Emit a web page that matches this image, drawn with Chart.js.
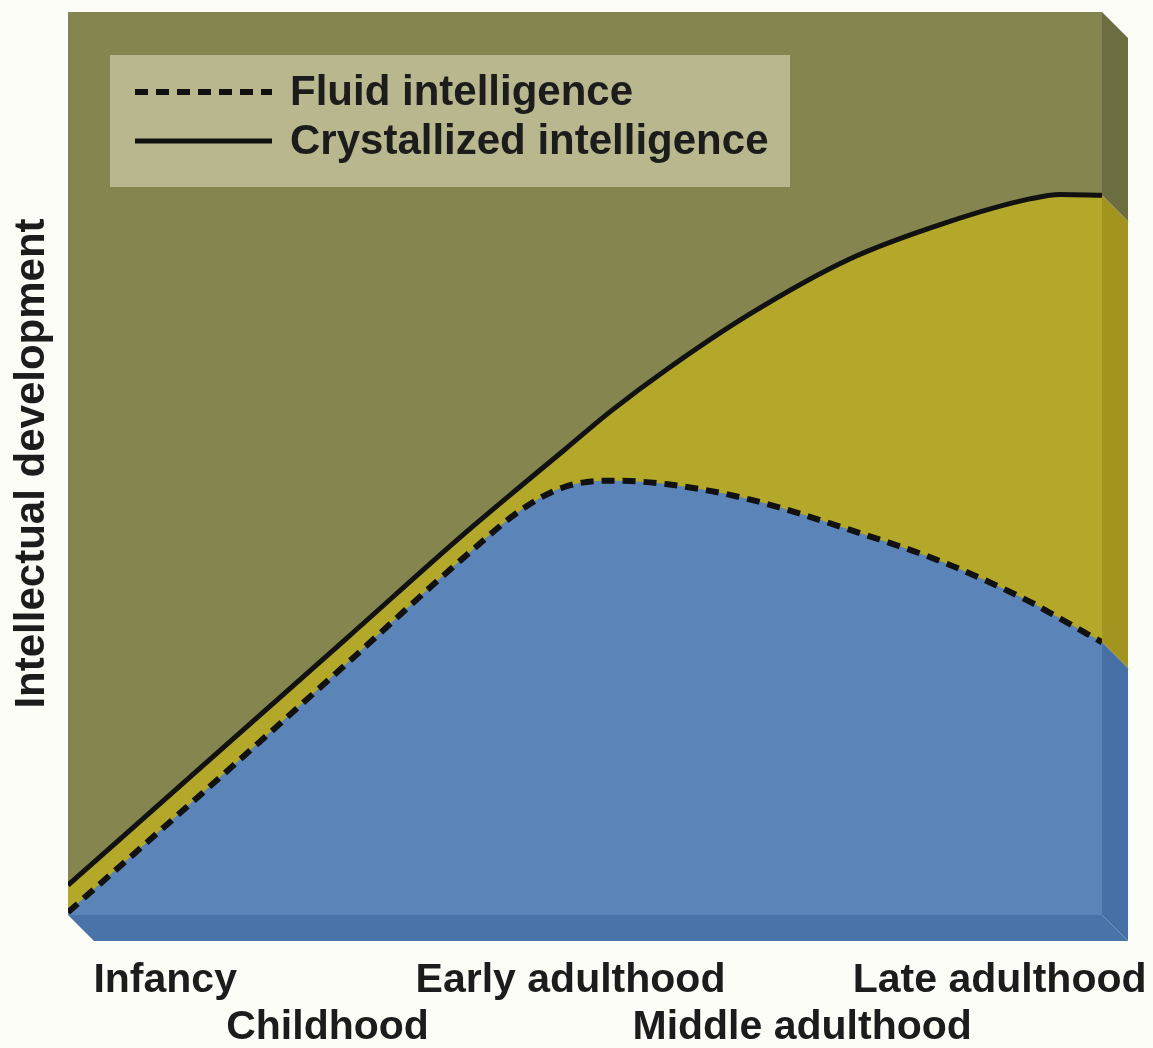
<!DOCTYPE html>
<html>
<head>
<meta charset="utf-8">
<script src="https://cdn.jsdelivr.net/npm/chart.js@4.4.1/dist/chart.umd.min.js"></script>
<style>
  html, body { margin: 0; padding: 0; background: #fdfdf8; }
  #wrap { width: 1153px; height: 1048px; }
</style>
</head>
<body>
<div id="wrap"><canvas id="chart" width="1153" height="1048"></canvas></div>
<script>
// life span position (0 = birth, 100 = end of late adulthood)
const ageX = [0, 12.8, 27.3, 38, 44, 48, 52.5, 58, 66, 75.5, 85, 93, 96, 100];
const crystallized = [3.3, 16.3, 31.0, 41.9, 47.7, 51.5, 55.8, 60.5, 66.6, 72.6, 76.7, 79.3, 79.8, 79.7];
const fluid = [0.3, 13.3, 28.2, 39.3, 45.0, 47.4, 48.1, 47.7, 46.0, 42.7, 38.9, 34.7, 32.8, 30.2];

const stageLabels = ['Infancy', 'Childhood', 'Early adulthood', 'Middle adulthood', 'Late adulthood'];
const stagePos = [9.4, 25.1, 48.6, 71.0, 90.1];

const seriesNames = ['Fluid intelligence', 'Crystallized intelligence'];

const FONT = '"Liberation Sans", Arial, Helvetica, sans-serif';
const INK = '#1c1c1c';
const DEPTH = 26;

const toPoints = ys => ys.map((y, i) => ({ x: ageX[i], y }));

// background, front face and the 3d side faces
const boxPlugin = {
  id: 'box',
  beforeDraw(chart) {
    const { ctx, chartArea: a, scales } = chart;
    ctx.save();
    ctx.fillStyle = '#fdfdf8';
    ctx.fillRect(0, 0, chart.width, chart.height);

    ctx.fillStyle = '#858550';
    ctx.fillRect(a.left, a.top, a.right - a.left, a.bottom - a.top);

    const yc = scales.y.getPixelForValue(crystallized[crystallized.length - 1]);
    const yf = scales.y.getPixelForValue(fluid[fluid.length - 1]);
    const R = a.right, D = DEPTH;
    const side = (y1, y2, col) => {
      ctx.fillStyle = col;
      ctx.beginPath();
      ctx.moveTo(R, y1);
      ctx.lineTo(R + D, y1 + D);
      ctx.lineTo(R + D, y2 + D);
      ctx.lineTo(R, y2);
      ctx.closePath();
      ctx.fill();
    };
    side(a.top, yc, '#6d6d42');
    side(yc, yf, '#a3941f');
    side(yf, a.bottom, '#4670a6');

    ctx.fillStyle = '#4a73a9';
    ctx.beginPath();
    ctx.moveTo(a.left, a.bottom);
    ctx.lineTo(R, a.bottom);
    ctx.lineTo(R + D, a.bottom + D);
    ctx.lineTo(a.left + D, a.bottom + D);
    ctx.closePath();
    ctx.fill();
    ctx.restore();
  }
};

// legend box in the upper left of the plot
const legendPlugin = {
  id: 'boxLegend',
  afterDraw(chart) {
    const { ctx, chartArea: a } = chart;
    const x0 = a.left + 42, y0 = a.top + 43;
    ctx.save();
    ctx.fillStyle = '#b8b78d';
    ctx.fillRect(x0, y0, 680, 132);

    const rows = [
      { ds: chart.data.datasets[0], y: y0 + 37 },
      { ds: chart.data.datasets[1], y: y0 + 86 }
    ];
    rows.forEach(r => {
      ctx.strokeStyle = r.ds.borderColor;
      ctx.lineWidth = r.ds.borderWidth;
      ctx.setLineDash(r.ds.borderDash || []);
      ctx.beginPath();
      ctx.moveTo(x0 + 25, r.y);
      ctx.lineTo(x0 + 162, r.y);
      ctx.stroke();
      ctx.setLineDash([]);
      ctx.fillStyle = INK;
      ctx.font = 'bold 42px ' + FONT;
      ctx.textBaseline = 'middle';
      ctx.fillText(r.ds.label, x0 + 180, r.y + 1);
    });
    ctx.restore();
  }
};

new Chart(document.getElementById('chart'), {
  type: 'line',
  data: {
    datasets: [
      {
        label: seriesNames[0],
        data: toPoints(fluid),
        borderColor: '#111111',
        borderWidth: 6,
        borderDash: [13, 8],
        backgroundColor: '#5b85b8',
        fill: 'origin',
        pointRadius: 0,
        cubicInterpolationMode: 'monotone'
      },
      {
        label: seriesNames[1],
        data: toPoints(crystallized),
        borderColor: '#111111',
        borderWidth: 5,
        backgroundColor: '#b3a829',
        fill: 0,
        pointRadius: 0,
        cubicInterpolationMode: 'monotone'
      }
    ]
  },
  options: {
    responsive: false,
    animation: false,
    events: [],
    layout: { padding: { left: 0, right: 51, top: 12, bottom: 0 } },
    plugins: {
      legend: { display: false },
      tooltip: { enabled: false }
    },
    scales: {
      x: {
        type: 'linear',
        min: 0,
        max: 100,
        grid: { display: false },
        border: { display: false },
        afterBuildTicks: axis => {
          axis.ticks = stagePos.map(v => ({ value: v }));
        },
        afterFit: axis => {
          // labels may hang past the plot edges, keep the plot where it is
          axis.paddingLeft = 0;
          axis.paddingRight = 0;
          axis.height = 133;
        },
        ticks: {
          autoSkip: false,
          maxRotation: 0,
          minRotation: 0,
          padding: 33.7,
          color: INK,
          font: { family: FONT, size: 41, weight: 'bold', lineHeight: 1.15 },
          callback: value => {
            const i = stagePos.indexOf(value);
            if (i < 0) return '';
            return i % 2 === 0 ? [stageLabels[i], ''] : ['', stageLabels[i]];
          }
        }
      },
      y: {
        min: 0,
        max: 100,
        grid: { display: false },
        border: { display: false },
        ticks: { display: false },
        afterFit: axis => {
          axis.width = 68;
        },
        title: {
          display: true,
          text: 'Intellectual development',
          color: INK,
          font: { family: FONT, size: 42, weight: 'bold', lineHeight: 1 },
          padding: { top: 11, bottom: 7 }
        }
      }
    }
  },
  plugins: [boxPlugin, legendPlugin]
});
</script>
</body>
</html>
